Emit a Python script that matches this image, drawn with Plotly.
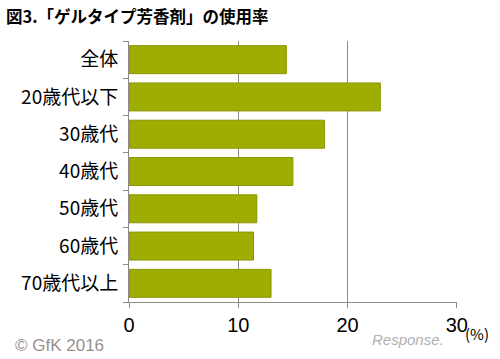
import plotly.graph_objects as go

categories = ["全体", "20歳代以下", "30歳代", "40歳代", "50歳代", "60歳代", "70歳代以上"]
values = [14.4, 23.0, 17.9, 15.0, 11.7, 11.4, 13.0]
x_ticks = [0, 10, 20, 30]

FONT = "Noto Sans CJK JP"
L, R, T, B = 129, 43, 41, 57
PW, PH = 500 - L - R, 359 - T - B

def px(x):
    return (x - L) / PW

def py(y):
    return (359 - B - y) / PH

fig = go.Figure(go.Bar(
    y=categories, x=values, orientation="h",
    marker=dict(color="#9fac00", line=dict(color="#8a9600", width=1)),
))

fig.update_layout(
    width=500, height=359,
    margin=dict(l=L, r=R, t=T, b=B),
    paper_bgcolor="white", plot_bgcolor="white",
    bargap=0.25,
    showlegend=False,
    font=dict(family=FONT, color="black", size=19),
    xaxis=dict(
        range=[0, 30.02], tickvals=x_ticks, ticktext=[str(t) for t in x_ticks],
        showgrid=True, gridcolor="#8c8c8c", gridwidth=1,
        showline=True, linecolor="#8c8c8c", linewidth=1,
        ticks="outside", ticklen=5, tickcolor="#8c8c8c",
        tickfont=dict(family="Liberation Sans", size=20, color="black"),
        zeroline=False, automargin=False,
    ),
    yaxis=dict(
        categoryorder="array", categoryarray=categories[::-1],
        showline=True, linecolor="#8c8c8c", linewidth=1,
        ticks="outside", ticklen=5, tickcolor="#8c8c8c",
        tickson="boundaries", showgrid=False,
        tickfont=dict(family=FONT, size=19, color="black"),
        ticklabelstandoff=6, automargin=False,
    ),
    annotations=[
        dict(text="<b>図3.「ゲルタイプ芳香剤」の使用率</b>", x=px(4), y=py(16), xref="paper", yref="paper",
             showarrow=False, xanchor="left", yanchor="middle",
             font=dict(family=FONT, size=16.5, color="black")),
        dict(text="(%)", x=px(463), y=py(333), xref="paper", yref="paper",
             showarrow=False, xanchor="left", yanchor="middle",
             font=dict(family=FONT, size=15, color="black")),
        dict(text="© GfK 2016", x=px(13), y=py(345), xref="paper", yref="paper",
             showarrow=False, xanchor="left", yanchor="middle",
             font=dict(family="Liberation Sans", size=17, color="#9a8f8c")),
        dict(text="<i>Response.</i>", x=px(408), y=py(339), xref="paper", yref="paper",
             showarrow=False, xanchor="center", yanchor="middle",
             font=dict(family="Liberation Sans", size=15, color="#b0b0b0")),
    ],
)

fig.write_html("out.html", config={"displayModeBar": False},
               post_script="document.body.style.margin='0';document.body.style.padding='0';")
